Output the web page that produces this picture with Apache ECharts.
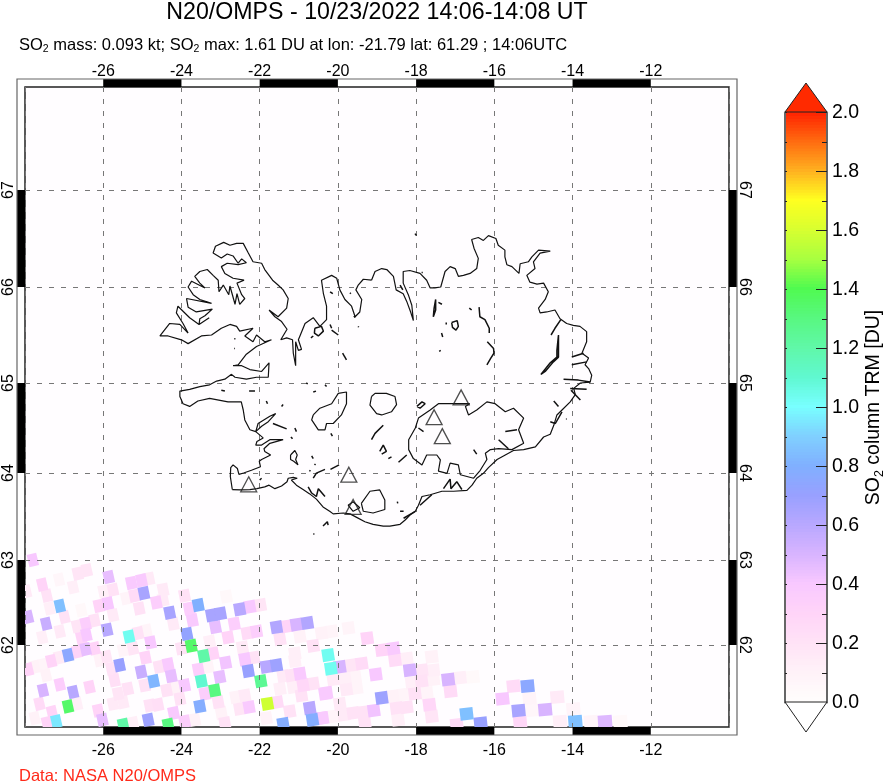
<!DOCTYPE html>
<html>
<head>
<meta charset="utf-8">
<title>N20/OMPS SO2</title>
<script src="https://cdn.jsdelivr.net/npm/echarts@6/dist/echarts.min.js"></script>
<style>
  html, body { margin: 0; padding: 0; background: #fff; }
  #chart { width: 883px; height: 783px; }
</style>
</head>
<body>
<div id="chart"></div>
<script>
// tick labels
const latTicks = [62, 63, 64, 65, 66, 67];
// map projection: height of each whole latitude from 61 to 68
const latScale = [0, 84, 169, 256, 346, 442, 539, 636];
// black pieces of the frame
const lonBands = [[-26, -24], [-22, -20], [-18, -16], [-14, -12]];
const latBands = [[66, 67], [64, 65], [62, 63]];
const volcanoes = [[-22.28, 63.87], [-19.72, 63.98], [-19.61, 63.61], [-17.54, 64.62], [-17.33, 64.41], [-16.85, 64.84]];

// SO2 footprints: lon, lat, DU
const so2Cells = [
  [-27.80,63.0,.4],[-27.13,62.77,.06],[-26.65,62.84,.18],[-26.42,62.88,.18],[-25.86,62.80,.45],[-27.56,62.71,.3],
  [-27.97,62.63,.15],[-26.77,62.68,.12],[-25.28,62.73,.38],[-25.02,62.76,.38],[-24.83,62.78,.15],[-25.75,62.65,.2],
  [-25.99,62.63,.12],[-27.44,62.58,.2],[-24.47,62.65,.15],[-25.20,62.58,.25],[-24.96,62.61,.65],[-23.92,62.58,.2],
  [-25.41,62.55,.08],[-22.85,62.57,.05],[-24.47,62.53,.15],[-24.64,62.50,.35],[-27.11,62.46,.85],[-25.88,62.49,.4],
  [-26.11,62.46,.3],[-27.37,62.43,.12],[-23.57,62.47,.8],[-23.80,62.43,.35],[-25.08,62.43,.2],[-26.56,62.41,.05],
  [-22.51,62.42,.6],[-22.25,62.45,.4],[-21.98,62.47,.18],[-24.30,62.38,.65],[-23.23,62.35,.65],[-23.0,62.37,.65],
  [-27.92,62.33,.5],[-26.99,62.33,.2],[-25.75,62.35,.15],[-23.72,62.29,.38],[-27.46,62.25,.55],[-26.45,62.25,.35],
  [-26.22,62.29,.2],[-26.67,62.22,.18],[-22.65,62.25,.35],[-24.21,62.25,.15],[-21.57,62.21,.62],[-21.31,62.22,.3],
  [-21.06,62.24,.5],[-20.78,62.26,.62],[-23.13,62.21,.45],[-27.11,62.16,.15],[-25.90,62.18,.6],[-25.11,62.14,.2],
  [-24.90,62.17,.08],[-23.86,62.13,.72],[-26.43,62.12,.4],[-26.56,62.08,.3],[-27.56,62.09,.12],[-22.32,62.14,.25],
  [-22.08,62.16,.35],[-25.34,62.10,1.03],[-22.81,62.09,.3],[-23.28,62.04,.12],[-21.48,62.07,.2],[-20.97,62.10,.1],
  [-20.42,62.14,.1],[-24.79,62.03,.4],[-23.75,61.99,1.35],[-24.0,61.96,.2],[-26.22,61.96,.3],[-26.45,61.95,.45],
  [-26.67,61.92,.3],[-20.63,61.99,.2],[-22.44,61.97,.15],[-25.24,61.96,.18],[-25.49,61.94,.08],[-26.90,61.88,.75],
  [-25.92,61.86,.18],[-27.13,61.85,.15],[-27.33,61.81,.3],[-23.43,61.87,1.2],[-23.19,61.90,.3],[-21.10,61.90,.12],
  [-24.92,61.85,.3],[-22.38,61.83,.4],[-22.15,61.85,.2],[-26.09,61.82,.1],[-27.56,61.76,.08],[-27.75,61.74,.1],
  [-27.92,61.71,.3],[-22.87,61.79,.42],[-25.58,61.76,.7],[-24.34,61.77,.38],[-24.57,61.74,.2],[-23.57,61.71,.35],
  [-23.32,61.74,.08],[-25.79,61.72,.2],[-22.29,61.69,.7],[-21.83,61.74,.6],[-21.57,61.76,.68],[-25.03,61.68,.55],
  [-21.10,61.81,.12],[-27.46,61.64,.1],[-24.26,61.63,.45],[-23.02,61.62,.45],[-20.97,61.66,.38],[-21.40,61.63,.15],
  [-21.19,61.64,.2],[-24.71,61.57,.82],[-25.71,61.58,.22],[-27.11,61.53,.35],[-23.92,61.52,.4],[-23.49,61.57,1.1],
  [-21.97,61.57,1.25],[-20.89,61.52,.28],[-20.63,61.54,.2],[-26.35,61.50,.3],[-25.37,61.48,.2],[-27.54,61.46,.5],
  [-24.94,61.52,.2],[-24.38,61.46,.2],[-24.17,61.50,.1],[-23.15,61.46,1.3],[-23.40,61.42,.35],[-26.77,61.44,.6],
  [-25.62,61.42,.18],[-21.48,61.48,.12],[-21.14,61.50,.12],[-20.93,61.40,.2],[-20.33,61.42,.38],[-22.38,61.40,.15],
  [-22.61,61.38,.1],[-27.63,61.30,.25],[-26.90,61.27,1.35],[-26.67,61.30,.12],[-23.06,61.32,.2],[-24.60,61.29,.22],
  [-24.81,61.28,.2],[-25.75,61.30,.15],[-25.49,61.32,.15],[-23.53,61.27,.78],[-21.80,61.30,1.58],[-21.55,61.32,.25],
  [-24.04,61.36,.2],[-26.13,61.22,.3],[-20.72,61.25,.6],[-22.51,61.24,.18],[-22.27,61.26,.38],[-27.31,61.20,.3],
  [-24.20,61.19,.38],[-21.23,61.21,.2],[-27.75,61.13,.1],[-22.98,61.19,.1],[-20.39,61.13,.38],[-20.65,61.11,.78],
  [-27.20,61.09,.95],[-27.44,61.07,.3],[-26.02,61.11,.45],[-24.85,61.11,.68],[-21.40,61.06,.78],[-21.83,61.13,.1],
  [-25.49,61.05,1.2],[-24.34,61.05,1.3],[-23.92,61.09,.35],[-23.66,61.11,.1],[-22.89,61.07,.2],[-25.24,61.07,.12],
  [-20.16,62.16,.08],[-19.73,62.2,.08],[-19.25,62.08,.3],[-18.88,61.94,.3],[-18.58,61.96,.38],[-20.25,61.88,1.03],
  [-20.18,61.72,1.03],[-19.95,61.74,.5],[-19.65,61.76,.18],[-19.39,61.78,.25],[-18.54,61.82,.25],[-18.24,61.84,.12],
  [-17.60,61.86,.1],[-19.03,61.65,.4],[-18.16,61.70,.5],[-17.86,61.70,.18],[-17.56,61.70,.12],[-17.18,61.59,.5],
  [-16.88,61.61,.12],[-16.55,61.62,.04],[-20.12,61.59,.15],[-19.82,61.61,.12],[-19.56,61.62,.08],[-17.86,61.57,.2],
  [-17.56,61.59,.1],[-18.11,61.55,.12],[-20.29,61.43,.38],[-19.78,61.47,.15],[-19.52,61.49,.08],[-18.88,61.37,.68],
  [-18.60,61.39,.1],[-18.33,61.41,.08],[-18.03,61.42,.2],[-17.73,61.43,.08],[-17.12,61.45,.25],[-17.66,61.29,.28],
  [-19.95,61.30,.15],[-19.08,61.22,.42],[-19.61,61.19,.2],[-19.35,61.20,.2],[-18.50,61.25,.2],[-18.24,61.26,.2],
  [-20.42,61.13,.38],[-20.12,61.15,.08],[-19.85,61.17,.15],[-18.46,61.11,.12],[-17.60,61.15,.18],[-16.71,61.18,.85],
  [-16.35,61.07,.7],[-16.96,61.05,.25],[-19.31,61.07,.2],[-15.51,61.51,.25],[-15.15,61.51,.75],[-15.79,61.36,.4],
  [-15.10,61.36,.08],[-14.39,61.38,.15],[-15.38,61.22,.65],[-14.70,61.23,.5],[-15.04,61.22,.06],[-13.98,61.24,.08],
  [-15.34,61.08,.28],[-14.32,61.09,.12],[-13.93,61.09,.85],[-13.53,61.09,.08],[-13.17,61.09,.48],[-12.78,61.09,.04]
];

// main coastline, lon/lat
const coastNorthWest = [
  [-19.14,66.07],[-19.35,66.08],[-19.48,66.02],[-19.54,65.97],[-19.39,65.87],[-19.44,65.74],[-19.56,65.69],[-19.65,65.80],
  [-19.82,65.87],[-19.95,65.97],[-20.03,66.09],[-20.16,66.12],[-20.42,66.07],[-20.37,65.93],[-20.29,65.80],[-20.29,65.66],
  [-20.46,65.59],[-20.63,65.68],[-20.84,65.62],[-20.97,65.49],[-21.01,65.45],[-20.93,65.35],[-21.01,65.34],[-21.08,65.43],
  [-21.08,65.18],[-21.14,65.31],[-21.16,65.45],[-21.31,65.47],[-21.46,65.45],[-21.30,65.56],[-21.44,65.64],[-21.61,65.69],
  [-21.76,65.76],[-21.53,65.69],[-21.31,65.78],[-21.27,65.88],[-21.40,65.97],[-21.53,66.02],[-21.67,66.07],[-21.87,66.18],
  [-21.95,66.245],[-22.17,66.26],[-22.29,66.35],[-22.42,66.45],[-22.59,66.45],[-22.76,66.43],[-22.92,66.46],[-23.13,66.42],
  [-23.19,66.35],[-22.98,66.30],[-22.83,66.34],[-22.68,66.32],[-22.55,66.245],[-22.46,66.29],[-22.34,66.25],[-22.55,66.23],
  [-22.83,66.245],[-22.98,66.21],[-22.89,66.14],[-22.68,66.09],[-22.40,66.07],[-22.58,66.04],[-22.46,65.92],[-22.38,65.88],
  [-22.51,65.82],[-22.58,65.93],[-22.63,65.82],[-22.76,66.01],[-22.79,65.92],[-22.93,66.02],[-23.04,65.95],[-23.06,66.07],
  [-23.19,66.12],[-23.34,66.18],[-23.53,66.16],[-23.66,66.11],[-23.53,66.04],[-23.40,65.99],[-23.74,66.06],[-23.83,66.00],
  [-23.70,65.92],[-23.53,65.87],[-23.23,65.83],[-23.87,65.88],[-23.83,65.79],[-23.62,65.74],[-23.21,65.77],[-23.40,65.70],
  [-23.53,65.67],[-23.55,65.61],[-23.29,65.68],[-23.55,65.61],[-23.79,65.68],[-24.09,65.80],[-24.13,65.73],[-23.96,65.62],
  [-23.83,65.52],[-24.04,65.61],[-24.30,65.62],[-24.55,65.49],[-24.34,65.49],[-24.0,65.45],[-23.83,65.41],[-23.49,65.49],
  [-23.23,65.50],[-22.98,65.57],[-22.76,65.61],[-22.59,65.59],[-22.51,65.54],[-22.17,65.57],[-22.38,65.49],[-22.17,65.43],
  [-22.08,65.50],[-21.87,65.43],[-21.70,65.45],[-22.08,65.38],[-22.34,65.30],[-22.55,65.19],[-22.68,65.18],[-22.46,65.18],
  [-22.25,65.14],[-21.95,65.12],[-21.76,65.21],[-21.78,65.06],[-22.08,65.06],[-22.34,65.04],[-22.63,65.06],[-22.72,65.09],
  [-22.89,65.04],[-23.10,65.02],[-23.28,64.98],[-23.53,64.96],[-23.79,64.93],[-24.04,64.91],[-24.04,64.85],[-23.96,64.77],
  [-23.79,64.74],[-23.58,64.80],[-23.28,64.83],[-22.81,64.79],[-22.47,64.79],[-22.42,64.70],[-22.38,64.59],[-22.25,64.48],
  [-22.10,64.46],[-22.04,64.55],[-21.74,64.63],[-21.59,64.66],[-21.78,64.57],[-21.95,64.52],[-22.10,64.46],[-21.91,64.39],
  [-22.07,64.35],[-22.10,64.31],[-21.95,64.31],[-21.74,64.37],[-21.40,64.37],[-21.74,64.33],[-21.89,64.27],[-21.87,64.24],
  [-21.72,64.20],[-21.95,64.15],[-22.01,64.13],[-21.98,64.07],[-22.21,64.03],[-22.41,64.00],[-22.53,63.985],[-22.57,64.05],
  [-22.68,64.09],[-22.74,64.06],[-22.75,63.96],[-22.70,63.81]
];
const coastSouthEast = [
  [-22.70,63.81],[-22.47,63.805],[-22.25,63.81],[-22.07,63.82],[-21.87,63.84],[-21.76,63.86],[-21.61,63.82],[-21.44,63.85],
  [-21.30,63.90],[-21.27,63.94],[-21.14,63.95],[-21.04,63.94],[-21.19,63.92],[-21.06,63.86],[-20.89,63.81],[-20.72,63.76],
  [-20.55,63.70],[-20.38,63.61],[-20.21,63.56],[-20.12,63.53],[-19.86,63.54],[-19.69,63.53],[-19.52,63.49],[-19.31,63.44],
  [-19.10,63.41],[-18.84,63.39],[-18.67,63.39],[-18.41,63.41],[-18.28,63.46],[-18.15,63.52],[-18.02,63.56],[-17.94,63.63],
  [-17.85,63.73],[-17.64,63.75],[-17.34,63.79],[-17.04,63.79],[-16.70,63.80],[-16.57,63.86],[-16.45,63.94],[-16.28,63.996],
  [-16.15,64.06],[-15.93,64.15],[-15.72,64.20],[-15.51,64.25],[-15.25,64.26],[-14.95,64.29],[-14.74,64.40],[-14.57,64.43],
  [-14.48,64.53],[-14.40,64.645],[-14.27,64.70],[-14.06,64.79],[-13.93,64.87],[-13.97,64.94],[-13.80,65.0],[-13.55,65.01],
  [-13.51,65.08],[-13.59,65.15],[-13.68,65.19],[-13.59,65.26],[-13.76,65.31],[-13.64,65.43],[-13.64,65.535],[-13.81,65.59],
  [-13.98,65.60],[-14.15,65.62],[-14.32,65.67],[-14.45,65.76],[-14.66,65.74],[-14.83,65.73],[-14.87,65.78],[-14.70,65.87],
  [-14.62,65.95],[-14.74,66.04],[-14.91,66.03],[-15.09,66.05],[-15.17,66.12],[-14.96,66.19],[-15.0,66.26],[-14.83,66.35],
  [-14.57,66.37],[-14.87,66.38],[-15.04,66.31],[-15.13,66.26],[-15.34,66.24],[-15.37,66.14],[-15.55,66.21],[-15.68,66.23],
  [-15.73,66.31],[-15.73,66.38],[-15.90,66.43],[-15.96,66.50],[-16.15,66.53],[-16.28,66.48],[-16.41,66.51],[-16.58,66.49],
  [-16.52,66.40],[-16.41,66.295],[-16.45,66.19],[-16.62,66.14],[-16.79,66.12],[-16.92,66.11],[-17.0,66.19],[-17.13,66.21],
  [-17.26,66.16],[-17.37,66.0],[-17.52,65.99],[-17.64,65.99],[-17.73,66.07],[-17.90,66.14],[-18.16,66.17],[-18.33,66.16],
  [-18.33,66.04],[-18.20,65.92],[-18.11,65.81],[-18.07,65.65],[-18.14,65.74],[-18.24,65.85],[-18.33,65.93],[-18.51,65.97],
  [-18.58,66.11],[-18.75,66.18],[-18.88,66.19],[-19.05,66.16],[-19.14,66.07]
];
// glaciers and big lakes
const vatnajokull = [
  [-18.02,64.50],[-18.19,64.37],[-18.19,64.26],[-18.07,64.16],[-17.85,64.09],[-17.73,64.20],[-17.47,64.20],[-17.38,64.145],
  [-17.43,64.02],[-17.21,63.996],[-17.13,64.11],[-16.92,64.09],[-16.87,63.98],[-16.53,63.94],[-16.36,64.03],[-16.19,64.15],
  [-16.23,64.22],[-16.10,64.26],[-15.89,64.27],[-15.55,64.26],[-15.25,64.33],[-15.38,64.48],[-15.25,64.61],[-15.51,64.72],
  [-15.72,64.68],[-15.98,64.77],[-16.19,64.79],[-16.45,64.70],[-16.66,64.645],[-16.74,64.74],[-16.63,64.77],[-16.87,64.77],
  [-17.17,64.77],[-17.43,64.77],[-17.64,64.70],[-17.94,64.61],[-18.02,64.50]
];
const langjokull = [
  [-20.63,64.645],[-20.46,64.72],[-20.16,64.77],[-19.99,64.885],[-19.78,64.90],[-19.78,64.77],[-19.91,64.645],[-20.12,64.55],
  [-20.29,64.55],[-20.33,64.48],[-20.50,64.48],[-20.67,64.59],[-20.63,64.645]
];
const hofsjokull = [
  [-19.14,64.85],[-19.05,64.885],[-18.76,64.885],[-18.54,64.85],[-18.50,64.76],[-18.63,64.68],[-18.88,64.645],[-19.01,64.66],
  [-19.18,64.755],[-19.14,64.85]
];
const myrdalsjokull = [[-19.40,63.65],[-19.18,63.79],[-18.93,63.805],[-18.80,63.69],[-18.80,63.58],[-19.10,63.54],[-19.35,63.56],[-19.40,63.65]];
const eyjafjoll = [[-19.74,63.63],[-19.61,63.67],[-19.44,63.60],[-19.61,63.56],[-19.74,63.63]];
const thingvallavatn = [[-21.21,64.20],[-21.10,64.25],[-21.04,64.20],[-21.08,64.15],[-21.02,64.09],[-21.13,64.13],[-21.21,64.15],[-21.21,64.20]];
// rivers, fjords and islets
const coastBits = [
  [[-17.50,65.87],[-17.54,65.78],[-17.56,65.69],[-17.50,65.76],[-17.50,65.87]],[[-17.43,65.84],[-17.34,65.82]],
  [[-16.64,65.78],[-16.58,65.76]],[[-17.23,65.63],[-17.23,65.61]],
  [[-17.09,65.63],[-16.95,65.65],[-16.92,65.59],[-16.98,65.55],[-17.07,65.58],[-17.09,65.63]],
  [[-17.35,65.52],[-17.32,65.48]],[[-17.41,65.33],[-17.37,65.34]],
  [[-16.39,65.79],[-16.37,65.69],[-16.24,65.66],[-16.13,65.57],[-16.13,65.52]],
  [[-16.18,65.43],[-16.02,65.36],[-16.01,65.31],[-16.09,65.26],[-16.19,65.19]],
  [[-14.30,65.66],[-14.45,65.57],[-14.55,65.50]],
  [[-14.36,65.50],[-14.40,65.34],[-14.40,65.27],[-14.57,65.21],[-14.81,65.09],[-14.70,65.12],[-14.49,65.22],[-14.36,65.27],[-14.36,65.50]],
  [[-18.03,66.55],[-17.99,66.53]],[[-17.86,66.15],[-17.83,66.15]],[[-18.41,66.02],[-18.34,65.97]],
  [[-14.02,65.19],[-13.64,65.22]],[[-14.02,65.27],[-13.72,65.31]],[[-14.23,65.04],[-13.85,65.03],[-13.55,65.01]],[[-14.06,64.94],[-13.64,64.93]],
  [[-20.20,65.95],[-20.13,65.93]],[[-19.69,65.94],[-19.67,65.93]],[[-19.59,65.70],[-19.56,65.68]],[[-19.48,65.59],[-19.47,65.58]],
  [[-20.2,65.61],[-20.16,65.57]],[[-20.16,65.55],[-19.99,65.50]],[[-19.88,65.31],[-19.78,65.24]],
  [[-20.59,65.57],[-20.42,65.59],[-20.37,65.54],[-20.50,65.49],[-20.60,65.52],[-20.59,65.57]],[[-20.69,65.47],[-20.63,65.49]],
  [[-22.65,65.46],[-22.62,65.46]],[[-22.65,65.36],[-22.63,65.36]],
  [[-22.98,64.92],[-22.89,64.91]],[[-22.27,64.91],[-22.12,64.91]],[[-21.83,64.80],[-21.80,64.77]],[[-21.44,64.74],[-21.40,64.76]],
  [[-20.81,65.0],[-20.77,64.99]],[[-20.63,64.90],[-20.56,64.91]],[[-20.33,64.98],[-20.29,64.96]],[[-21.66,64.55],[-21.31,64.49]],
  [[-21.10,64.50],[-21.06,64.46]],[[-21.20,64.40],[-21.16,64.38]],[[-20.18,64.44],[-20.14,64.41]],[[-22.0,63.92],[-21.95,63.94]],
  [[-20.67,64.19],[-20.63,64.16]],[[-20.60,64.10],[-20.57,64.09]],[[-20.73,64.03],[-20.70,64.02]],[[-20.63,63.94],[-20.55,63.998],[-20.33,64.04]],
  [[-20.19,64.04],[-19.97,64.09]],[[-20.76,63.84],[-20.67,63.77],[-20.55,63.73],[-20.50,63.82],[-20.33,63.73]],
  [[-20.38,63.39],[-20.27,63.44],[-20.25,63.40]],[[-20.63,63.30],[-20.60,63.30]],
  [[-19.14,64.37],[-19.05,64.44],[-18.84,64.53]],[[-18.93,64.24],[-18.84,64.31],[-18.76,64.24],[-18.88,64.21]],[[-18.71,64.16],[-18.63,64.18]],
  [[-17.98,64.74],[-17.85,64.79],[-17.77,64.77],[-17.90,64.72],[-17.98,64.74]],[[-17.94,64.50],[-17.81,64.46]],[[-16.53,64.26],[-16.45,64.21]],
  [[-18.45,64.12],[-18.24,64.20]],[[-18.48,63.67],[-18.47,63.65]],[[-18.41,63.56],[-18.32,63.56]],[[-14.17,64.60],[-14.15,64.60]],
  [[-14.57,64.57],[-14.44,64.55],[-14.27,64.68]],[[-14.48,64.80],[-14.36,64.74]],[[-14.04,64.92],[-13.80,64.81]],
  [[-17.30,63.82],[-17.13,63.93],[-17.11,63.82],[-16.96,63.90],[-16.83,63.81]],[[-17.90,63.63],[-17.60,63.75]],[[-18.32,63.48],[-18.02,63.56]],
  [[-15.89,64.37],[-15.64,64.27]],[[-15.72,64.46],[-15.42,64.48]]
];

// colour scale, one colour per 0.1 DU
const colorScale = ['#fffdfc','#fff2f8','#ffe2f6','#ffd4f8','#f8c8ff','#d8b4ff','#b8a8ff','#98a0ff','#80b0ff','#80d0ff','#78ffff',
  '#60f8d0','#60f8a8','#58f880','#50fa50','#a8ff40','#d8ff30','#ffff20','#ffb020','#ff6a10','#ff2000'];
const duColor = v => echarts.color.lerp(Math.min(v / 2, 1), colorScale);
const barLevels = [];
for (let i = 0; i < 200; i++) barLevels.push([0, i / 100]);

const FONT = '"Liberation Sans", Arial, sans-serif';

// lat -> height on the map
function toY(lat) {
  const i = Math.max(0, Math.min(6, Math.floor(lat - 61)));
  return latScale[i] + (lat - 61 - i) * (latScale[i + 1] - latScale[i]);
}
const project = line => line.map(p => [p[0], toY(p[1])]);
const latLabel = v => String(61 + latScale.indexOf(v));

const myChart = echarts.init(document.getElementById('chart'), null, { renderer: 'canvas' });

function coastSeries(line, width) {
  return {
    type: 'line', data: project(line), symbol: 'none', silent: true, z: 5, animation: false,
    xAxisIndex: 0, yAxisIndex: 0,
    lineStyle: { color: '#111', width: width || 1.2 }
  };
}

// footprints lean less and get wider towards the east
function renderCell(params, api) {
  const lon = api.value(0);
  const c = api.coord([lon, api.value(1)]);
  const t = (lon + 28) / 16;
  const w = (9.5 + 5 * t) / 2, h = 6.2, s = 0.24 - 0.18 * t;
  return {
    type: 'polygon',
    shape: { points: [
      [c[0] - w - h * s, c[1] + w * s - h],
      [c[0] + w - h * s, c[1] - w * s - h],
      [c[0] + w + h * s, c[1] - w * s + h],
      [c[0] - w + h * s, c[1] + w * s + h]
    ] },
    style: { fill: duColor(api.value(2)) }
  };
}

function renderLonBand(params, api) {
  const a = api.coord([api.value(0), toY(68)]);
  const b = api.coord([api.value(1), toY(61)]);
  const gb = params.coordSys;
  return { type: 'group', children: [
    { type: 'rect', shape: { x: a[0], y: gb.y - 8, width: b[0] - a[0], height: 8 }, style: { fill: '#000' } },
    { type: 'rect', shape: { x: a[0], y: gb.y + gb.height, width: b[0] - a[0], height: 8 }, style: { fill: '#000' } }
  ] };
}

function renderLatBand(params, api) {
  const a = api.coord([-28, toY(api.value(1))]);
  const b = api.coord([-28, toY(api.value(0))]);
  const gb = params.coordSys;
  return { type: 'group', children: [
    { type: 'rect', shape: { x: gb.x - 8, y: a[1], width: 8, height: b[1] - a[1] }, style: { fill: '#000' } },
    { type: 'rect', shape: { x: gb.x + gb.width, y: a[1], width: 8, height: b[1] - a[1] }, style: { fill: '#000' } }
  ] };
}

const lonLabel = { show: true, color: '#000', fontFamily: FONT, fontSize: 16, showMinLabel: false, showMaxLabel: false };
const latAxisLabel = { show: true, color: '#000', fontFamily: FONT, fontSize: 16, customValues: latTicks.map(toY), formatter: latLabel };

const option = {
  animation: false,
  backgroundColor: '#fff',
  title: [
    { text: 'N20/OMPS - 10/23/2022 14:06-14:08 UT', left: 372, top: -4, textAlign: 'center',
      textStyle: { fontFamily: FONT, fontSize: 23.2, fontWeight: 'normal', color: '#000' } },
    { text: '{a|SO}{b|2}{a| mass: 0.093 kt; SO}{b|2}{a| max: 1.61 DU at lon: -21.79 lat: 61.29 ; 14:06UTC}', left: 14, top: 30,
      textStyle: { fontWeight: 'normal', rich: {
        a: { fontFamily: FONT, fontSize: 16.5, fontWeight: 'normal', color: '#000', lineHeight: 20 },
        b: { fontFamily: FONT, fontSize: 10.5, fontWeight: 'normal', color: '#000', lineHeight: 20, verticalAlign: 'bottom', padding: [6, 0, 0, 0] }
      } } },
    { text: 'Data: NASA N20/OMPS', left: 14, top: 763,
      textStyle: { fontFamily: FONT, fontSize: 16.5, fontWeight: 'normal', color: '#ff2a1a' } }
  ],
  grid: [
    { left: 25, top: 87, width: 704, height: 640, outerBoundsMode: 'none', show: true, backgroundColor: '#fffdff', borderColor: '#222', borderWidth: 1.5, z: 1 },
    { left: 785, top: 112.5, width: 42, height: 590, outerBoundsMode: 'none' }
  ],
  xAxis: [
    { type: 'value', gridIndex: 0, min: -28, max: -10, interval: 2, position: 'bottom', z: 3,
      axisLine: { show: false }, axisTick: { show: false }, axisLabel: Object.assign({}, lonLabel, { margin: 16 }),
      splitLine: { show: true, lineStyle: { color: '#777', width: 1, type: [5, 7] } } },
    { type: 'value', gridIndex: 0, min: -28, max: -10, interval: 2, position: 'top', z: 3,
      axisLine: { show: false }, axisTick: { show: false }, axisLabel: Object.assign({}, lonLabel, { margin: 7 }), splitLine: { show: false } },
    { type: 'value', gridIndex: 1, min: 0, max: 1, show: false }
  ],
  yAxis: [
    { type: 'value', gridIndex: 0, min: 2, max: 642, position: 'left', z: 3,
      axisLine: { show: false }, axisTick: { show: false, customValues: latTicks.map(toY) },
      axisLabel: Object.assign({}, latAxisLabel, { rotate: 90, margin: 8 }),
      splitLine: { show: true, lineStyle: { color: '#777', width: 1, type: [5, 7] } } },
    { type: 'value', gridIndex: 0, min: 2, max: 642, position: 'right', z: 3,
      axisLine: { show: false }, axisTick: { show: false, customValues: latTicks.map(toY) },
      axisLabel: Object.assign({}, latAxisLabel, { rotate: -90, margin: 7 }), splitLine: { show: false } },
    { type: 'value', gridIndex: 1, min: 0, max: 2, interval: 0.2, position: 'right', z: 4,
      name: '{a|SO}{b|2}{a| column TRM [DU]}', nameLocation: 'middle', nameRotate: 90, nameGap: 35,
      nameTextStyle: { rich: {
        a: { fontFamily: FONT, fontSize: 19.5, color: '#000', lineHeight: 24 },
        b: { fontFamily: FONT, fontSize: 12.5, color: '#000', lineHeight: 24, verticalAlign: 'bottom', padding: [7, 0, 0, 0] }
      } },
      axisLine: { show: true, onZero: false, lineStyle: { color: '#666', width: 2 } },
      axisTick: { inside: true, length: 11, lineStyle: { color: '#222', width: 1 } },
      minorTick: { show: true, splitNumber: 2, length: 5, lineStyle: { color: '#222', width: 1 } },
      axisLabel: { color: '#000', fontFamily: FONT, fontSize: 19.5, margin: 5, alignMinLabel: 'bottom', alignMaxLabel: 'top', formatter: v => v.toFixed(1) },
      splitLine: { show: false } },
    { type: 'value', gridIndex: 1, min: 0, max: 2, interval: 0.2, position: 'left', z: 4,
      axisLine: { show: true, onZero: false, lineStyle: { color: '#666', width: 2 } },
      axisTick: { inside: true, length: 2, lineStyle: { color: '#222', width: 1 } },
      minorTick: { show: true, splitNumber: 2, length: 2, lineStyle: { color: '#222', width: 1 } },
      axisLabel: { show: false }, splitLine: { show: false } }
  ],
  graphic: [
    { type: 'rect', z: 10, silent: true, shape: { x: 17, y: 79, width: 720, height: 656 }, style: { fill: 'none', stroke: '#666', lineWidth: 1.2 } },
    { type: 'polygon', z: 10, silent: true, shape: { points: [[785, 112], [806, 83], [827, 112]] }, style: { fill: '#ff2a00', stroke: '#222', lineWidth: 1 } },
    { type: 'polygon', z: 10, silent: true, shape: { points: [[785, 702], [806, 732], [827, 702]] }, style: { fill: '#fff', stroke: '#222', lineWidth: 1 } }
  ],
  series: [
    // weakest first so a strong footprint is never painted over
    { type: 'custom', xAxisIndex: 0, yAxisIndex: 0, z: 2, clip: true, silent: true, encode: { x: 0, y: 1 },
      data: so2Cells.slice().sort((a, b) => a[2] - b[2]).map(c => [c[0], toY(c[1]), c[2]]), renderItem: renderCell },
    { type: 'custom', xAxisIndex: 0, yAxisIndex: 0, z: 6, clip: false, silent: true, encode: { x: [0, 1] },
      data: lonBands, renderItem: renderLonBand },
    { type: 'custom', xAxisIndex: 0, yAxisIndex: 0, z: 6, clip: false, silent: true, encode: { y: [0, 1] },
      data: latBands, renderItem: renderLatBand },
    { type: 'custom', xAxisIndex: 2, yAxisIndex: 2, z: 2, clip: false, silent: true, encode: { x: 0, y: 1 },
      data: barLevels,
      renderItem(params, api) {
        const v = api.value(1);
        const a = api.coord([0, v + 0.01]);
        const b = api.coord([1, v]);
        return { type: 'rect', shape: { x: a[0], y: a[1] - 0.5, width: b[0] - a[0], height: b[1] - a[1] + 1 }, style: { fill: duColor(v) } };
      } },
    coastSeries(coastNorthWest), coastSeries(coastSouthEast), coastSeries(vatnajokull), coastSeries(langjokull),
    coastSeries(hofsjokull), coastSeries(myrdalsjokull), coastSeries(eyjafjoll), coastSeries(thingvallavatn)
  ].concat(coastBits.map(b => coastSeries(b, 1.5))).concat([
    { type: 'scatter', xAxisIndex: 0, yAxisIndex: 0, z: 7, silent: true, symbol: 'triangle', symbolSize: [16, 15],
      data: project(volcanoes), itemStyle: { color: 'rgba(0,0,0,0)', borderColor: '#222', borderWidth: 1.3 } }
  ])
};
myChart.setOption(option);
</script>
</body>
</html>
